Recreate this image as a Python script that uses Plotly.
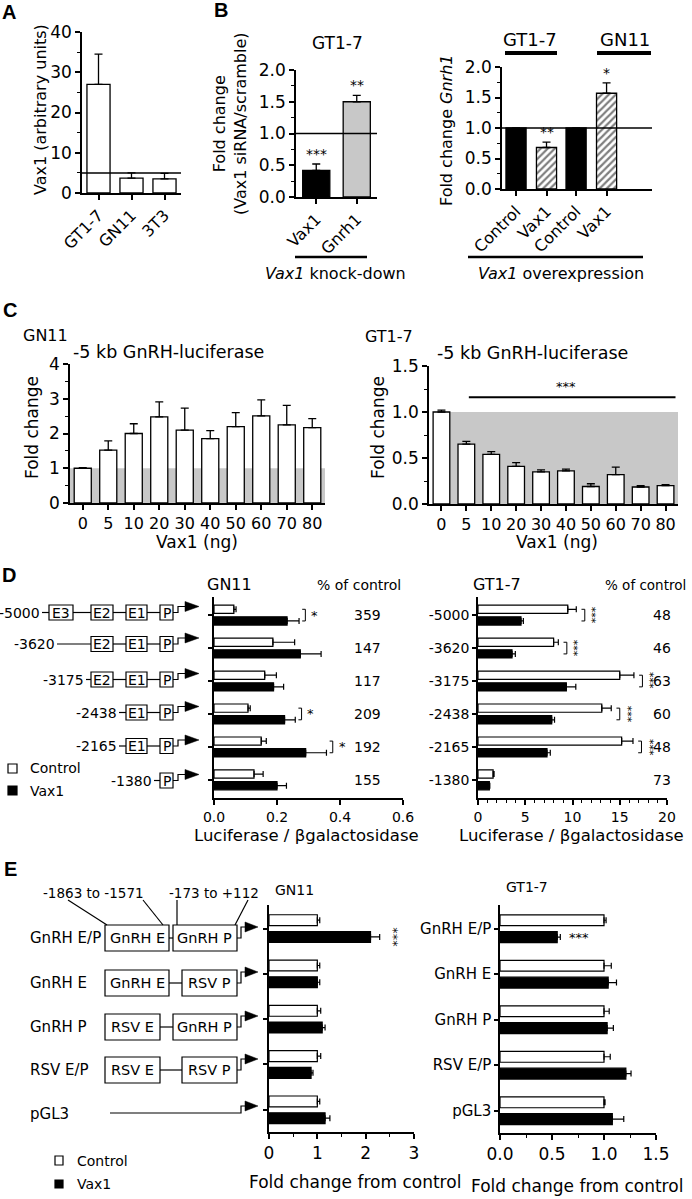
import plotly.graph_objects as go

W, H = 692, 1199
FONT = "DejaVu Sans"

# ---------------- data ----------------
A_cats = ["GT1-7", "GN11", "3T3"]
A_vals = [27.0, 3.7, 3.5]
A_err = [7.5, 1.3, 1.4]
A_ref = 5

B1_cats = ["Vax1", "Gnrh1"]
B1_vals = [0.42, 1.50]
B1_err = [0.10, 0.10]
B1_sig = ["***", "**"]

B2_groups = ["GT1-7", "GN11"]
B2_ctrl = [1.0, 1.0]
B2_vax = [0.68, 1.57]
B2_vax_err = [0.09, 0.17]
B2_sig = ["**", "*"]

C_doses = ["0", "5", "10", "20", "30", "40", "50", "60", "70", "80"]
C_gn11 = [1.0, 1.52, 2.0, 2.48, 2.1, 1.85, 2.2, 2.51, 2.25, 2.17]
C_gn11_err = [0.02, 0.27, 0.28, 0.43, 0.63, 0.23, 0.4, 0.46, 0.56, 0.26]
C_gn11_sig = ["", "", "", "*", "", "", "", "", "*", ""]
C_gt17 = [1.0, 0.65, 0.54, 0.41, 0.35, 0.36, 0.19, 0.32, 0.185, 0.2]
C_gt17_err = [0.02, 0.03, 0.03, 0.04, 0.02, 0.02, 0.03, 0.08, 0.015, 0.01]

D_rows = ["-5000", "-3620", "-3175", "-2438", "-2165", "-1380"]
D_gn_ctrl = [0.063, 0.187, 0.161, 0.108, 0.150, 0.127]
D_gn_ctrl_err = [0.007, 0.069, 0.037, 0.007, 0.016, 0.029]
D_gn_vax = [0.232, 0.274, 0.189, 0.224, 0.291, 0.200]
D_gn_vax_err = [0.038, 0.066, 0.032, 0.034, 0.066, 0.030]
D_gn_pct = [359, 147, 117, 209, 192, 155]
D_gn_sig = ["*", "", "", "*", "*", ""]
D_gt_ctrl = [9.5, 8.0, 15.0, 13.1, 15.2, 1.6]
D_gt_ctrl_err = [0.9, 0.5, 1.5, 1.0, 1.2, 0.1]
D_gt_vax = [4.55, 3.6, 9.35, 7.8, 7.3, 1.2]
D_gt_vax_err = [0.25, 0.35, 1.0, 0.3, 0.35, 0.05]
D_gt_pct = [48, 46, 63, 60, 48, 73]
D_gt_sig = ["***", "***", "***", "***", "***", ""]

E_rows = ["GnRH E/P", "GnRH E", "GnRH P", "RSV E/P", "pGL3"]
E_gn_ctrl = [1.0, 1.0, 1.0, 1.0, 1.0]
E_gn_ctrl_err = [0.05, 0.05, 0.07, 0.07, 0.05]
E_gn_vax = [2.1, 1.0, 1.1, 0.87, 1.16]
E_gn_vax_err = [0.19, 0.05, 0.06, 0.04, 0.10]
E_gt_ctrl = [1.0, 1.0, 1.0, 1.0, 1.0]
E_gt_ctrl_err = [0.02, 0.07, 0.05, 0.06, 0.01]
E_gt_vax = [0.55, 1.04, 1.03, 1.21, 1.08]
E_gt_vax_err = [0.03, 0.08, 0.06, 0.05, 0.11]

# ---------------- helpers ----------------
def px(x):
    return x / W

def py(y):
    return 1 - y / H

def xr(n):
    return "x" if n == 1 else f"x{n}"

def yr(n):
    return "y" if n == 1 else f"y{n}"

layout = dict(width=W, height=H,
              margin=dict(l=0, r=0, t=0, b=0, pad=0, autoexpand=False),
              paper_bgcolor="white", plot_bgcolor="rgba(0,0,0,0)",
              showlegend=False, barmode="overlay",
              font=dict(family=FONT, color="black"))
shapes = []
annotations = []
traces = []

def base_axis(size):
    return dict(showline=True, linecolor="black", linewidth=1.5, ticks="outside",
                ticklen=5, tickwidth=1.5, tickcolor="black", showgrid=False,
                zeroline=False, fixedrange=True, automargin=False,
                tickfont=dict(family=FONT, size=size, color="black"))

def add_axes(n, xdom, ydom, xkw, ykw, size=17):
    xa = base_axis(size)
    xa.update(domain=[px(xdom[0]), px(xdom[1])], anchor=yr(n))
    xa.update(xkw)
    ya = base_axis(size)
    ya.update(domain=[py(ydom[1]), py(ydom[0])], anchor=xr(n))
    ya.update(ykw)
    layout["xaxis" if n == 1 else f"xaxis{n}"] = xa
    layout["yaxis" if n == 1 else f"yaxis{n}"] = ya

def minor(d):
    return dict(ticks="outside", ticklen=3, tickwidth=1, tickcolor="black", dtick=d)

def T(x, y, text, size=14, xa="center", ya="middle", angle=0, family=FONT):
    annotations.append(dict(x=px(x), y=py(y), xref="paper", yref="paper", text=text,
                            showarrow=False, xanchor=xa, yanchor=ya, textangle=angle,
                            font=dict(size=size, family=family, color="black")))

def TA(n, x, y, text, size=14, xa="center", ya="bottom", angle=0):
    annotations.append(dict(x=x, y=y, xref=xr(n), yref=yr(n), text=text, showarrow=False,
                            xanchor=xa, yanchor=ya, textangle=angle,
                            font=dict(size=size, family=FONT, color="black")))

def L(x0, y0, x1, y1, w=1.2):
    shapes.append(dict(type="line", xref="paper", yref="paper", x0=px(x0), y0=py(y0),
                       x1=px(x1), y1=py(y1), line=dict(color="black", width=w)))

def R(x0, y0, x1, y1, fill="white", w=1.2):
    shapes.append(dict(type="rect", xref="paper", yref="paper", x0=px(x0), y0=py(y0),
                       x1=px(x1), y1=py(y1), line=dict(color="black", width=w),
                       fillcolor=fill, layer="above"))

def P(points, fill=None, w=1.2):
    d = "M " + " L ".join(f"{px(a):.5f},{py(b):.5f}" for a, b in points)
    if fill:
        d += " Z"
    shapes.append(dict(type="path", xref="paper", yref="paper", path=d,
                       line=dict(color="black", width=w),
                       fillcolor=fill if fill else "rgba(0,0,0,0)", layer="above"))

def promoter_arrow(xr_, yc, step, up, stem, hl, hh):
    xs = xr_ + step
    P([(xr_, yc), (xs, yc), (xs, yc - up), (xs + stem, yc - up)])
    xa = xs + stem
    P([(xa, yc - up - hh / 2), (xa, yc - up + hh / 2), (xa + hl, yc - up)], fill="black", w=0.5)

def vbar(n, x, y, err, color, width, pattern=None):
    m = dict(color=color, line=dict(color="black", width=1.3))
    if pattern:
        m["pattern"] = pattern
    traces.append(go.Bar(x=x, y=y, xaxis=xr(n), yaxis=yr(n), width=width, marker=m,
                         error_y=dict(type="data", array=err, arrayminus=[0] * len(err),
                                      symmetric=False, color="black", thickness=1.3, width=4)))

def hbar(n, pos, x, err, color, width):
    traces.append(go.Bar(y=pos, x=x, orientation="h", xaxis=xr(n), yaxis=yr(n), width=width,
                         marker=dict(color=color, line=dict(color="black", width=1.2)),
                         error_x=dict(type="data", array=err, arrayminus=[0] * len(err),
                                      symmetric=False, color="black", thickness=1.2, width=3)))

# ---------------- Panel A ----------------
add_axes(1, (82, 181), (32, 193),
         dict(type="category", range=[-0.5, 2.5], tickangle=-45, tickfont=dict(size=16, family=FONT)),
         dict(range=[0, 40], dtick=10, minor=minor(5)))
vbar(1, A_cats, A_vals, A_err, "white", 0.7)
shapes.append(dict(type="line", xref="x", yref="y", x0=-0.5, x1=2.5, y0=A_ref, y1=A_ref,
                   line=dict(color="black", width=1.5), layer="above"))
T(40, 110, "Vax1 (arbitrary units)", size=16, angle=-90)

# ---------------- Panel B (knock-down) ----------------
add_axes(2, (296, 377), (70, 197),
         dict(type="category", range=[-0.5, 1.5], tickangle=-45, tickfont=dict(size=16, family=FONT)),
         dict(range=[0, 2], dtick=0.5, tickformat=".1f", minor=minor(0.25)))
vbar(2, B1_cats, B1_vals, B1_err, ["black", "#c8c8c8"], 0.67)
shapes.append(dict(type="line", xref="x2", yref="y2", x0=-0.5, x1=1.5, y0=1, y1=1,
                   line=dict(color="black", width=1.5), layer="above"))
for i, s in enumerate(B1_sig):
    TA(2, B1_cats[i], B1_vals[i] + B1_err[i], s, size=14)
T(337, 43, "GT1-7", size=17)
T(230, 124, "Fold change<br>(Vax1 siRNA/scramble)", size=16, angle=-90)
L(295, 257, 367, 257, w=2.5)
T(335, 273, "<i>Vax1</i> knock-down", size=16)

# ---------------- Panel B (overexpression) ----------------
gap = 1.97
ctrl_pos = [g * gap for g in range(len(B2_groups))]
vax_pos = [g * gap + 1 for g in range(len(B2_groups))]
tickpos = [p for g in range(len(B2_groups)) for p in (ctrl_pos[g], vax_pos[g])]
add_axes(3, (502, 652), (67, 189),
         dict(range=[-0.46, 4.46], tickvals=tickpos, ticktext=["Control", "Vax1"] * 2,
              tickangle=-45, tickfont=dict(size=16, family=FONT)),
         dict(range=[0, 2], dtick=0.5, tickformat=".1f", minor=minor(0.25)))
vbar(3, ctrl_pos, B2_ctrl, [0, 0], "black", 0.66)
vbar(3, vax_pos, B2_vax, B2_vax_err, "white", 0.66,
     pattern=dict(shape="/", fgcolor="black", bgcolor="white", size=5, solidity=0.45))
shapes.append(dict(type="line", xref="x3", yref="y3", x0=-0.46, x1=4.46, y0=1, y1=1,
                   line=dict(color="black", width=1.5), layer="above"))
for g, s in enumerate(B2_sig):
    TA(3, vax_pos[g], B2_vax[g] + B2_vax_err[g], s, size=14)
T(530, 39, "GT1-7", size=18)
T(625, 39, "GN11", size=18)
L(505, 53, 557, 53, w=4)
L(597, 53, 651, 53, w=4)
T(446, 130, "Fold change <i>Gnrh1</i>", size=16, angle=-90)
L(468, 257, 643, 257, w=2.5)
T(561, 273, "<i>Vax1</i> overexpression", size=16)

# ---------------- Panel C ----------------
add_axes(4, (70, 325), (364, 503),
         dict(type="category", range=[-0.5, 9.5], tickangle=0, tickfont=dict(size=16, family=FONT)),
         dict(range=[0, 4], dtick=1, minor=minor(0.5)))
shapes.append(dict(type="rect", xref="x4", yref="y4", x0=-0.5, x1=9.5, y0=0, y1=1,
                   fillcolor="#c8c8c8", line=dict(width=0), layer="below"))
vbar(4, C_doses, C_gn11, C_gn11_err, "white", 0.67)
for i, s in enumerate(C_gn11_sig):
    if s:
        TA(4, C_doses[i], C_gn11[i] + C_gn11_err[i], s, size=15)
T(46, 335, "GN11", size=16)
T(168, 352, "-5 kb GnRH-luciferase", size=17.5)
T(32, 428, "Fold change", size=17, angle=-90)
T(197, 542, "Vax1 (ng)", size=17)

add_axes(5, (429, 678), (366, 504),
         dict(type="category", range=[-0.5, 9.5], tickangle=0, tickfont=dict(size=16, family=FONT)),
         dict(range=[0, 1.5], dtick=0.5, tickformat=".1f", minor=minor(0.25)))
shapes.append(dict(type="rect", xref="x5", yref="y5", x0=0, x1=9.5, y0=0, y1=1,
                   fillcolor="#c8c8c8", line=dict(width=0), layer="below"))
vbar(5, C_doses, C_gt17, C_gt17_err, "white", 0.67)
shapes.append(dict(type="line", xref="x5", yref="y5", x0=1.1, x1=9.4, y0=1.16, y1=1.16,
                   line=dict(color="black", width=2)))
TA(5, 5, 1.17, "***", size=13)
T(389, 337, "GT1-7", size=16)
T(532, 353, "-5 kb GnRH-luciferase", size=17.5)
T(378, 428, "Fold change", size=17, angle=-90)
T(557, 542, "Vax1 (ng)", size=17)

# ---------------- Panel D ----------------
nD = len(D_rows)
d_off, d_w = 0.177, 0.25
d_idx = list(range(nD))
add_axes(6, (214, 403), (597, 798),
         dict(range=[0, 0.6], dtick=0.2, tickformat=".1f"),
         dict(range=[nD - 0.45, -0.55], tickvals=d_idx, showticklabels=False, ticklen=4),
         size=14)
hbar(6, [i - d_off for i in d_idx], D_gn_ctrl, D_gn_ctrl_err, "white", d_w)
hbar(6, [i + d_off for i in d_idx], D_gn_vax, D_gn_vax_err, "black", d_w)
for i in d_idx:
    annotations.append(dict(x=px(367), y=i, xref="paper", yref="y6", text=str(D_gn_pct[i]),
                            showarrow=False, font=dict(size=14, family=FONT, color="black")))
    if D_gn_sig[i]:
        xb = max(D_gn_ctrl[i] + D_gn_ctrl_err[i], D_gn_vax[i] + D_gn_vax_err[i]) + 0.02
        shapes.append(dict(type="path", xref="x6", yref="y6",
                           path=f"M {xb-0.01},{i-d_off} L {xb},{i-d_off} L {xb},{i+d_off} L {xb-0.01},{i+d_off}",
                           line=dict(color="black", width=1)))
        TA(6, xb + 0.012, i, D_gn_sig[i], size=13, xa="left", ya="middle")

add_axes(7, (478, 667), (597, 798),
         dict(range=[0, 20], dtick=5, minor=minor(1)),
         dict(range=[nD - 0.45, -0.55], tickvals=d_idx, ticktext=D_rows, ticklen=4),
         size=14)
hbar(7, [i - d_off for i in d_idx], D_gt_ctrl, D_gt_ctrl_err, "white", d_w)
hbar(7, [i + d_off for i in d_idx], D_gt_vax, D_gt_vax_err, "black", d_w)
for i in d_idx:
    annotations.append(dict(x=px(673), y=i, xref="paper", yref="y7", text=str(D_gt_pct[i]),
                            showarrow=False, font=dict(size=14, family=FONT, color="black")))
    if D_gt_sig[i]:
        xb = max(D_gt_ctrl[i] + D_gt_ctrl_err[i], D_gt_vax[i] + D_gt_vax_err[i]) + 0.9
        shapes.append(dict(type="path", xref="x7", yref="y7",
                           path=f"M {xb-0.35},{i-d_off} L {xb},{i-d_off} L {xb},{i+d_off} L {xb-0.35},{i+d_off}",
                           line=dict(color="black", width=1)))
        TA(7, xb + 0.8, i, D_gt_sig[i], size=11, xa="center", ya="middle", angle=90)

T(230, 585, "GN11", size=16)
T(359, 585, "% of control", size=14)
T(497, 585, "GT1-7", size=16)
T(645, 585, "% of control", size=13.5)
T(306, 835, "Luciferase / βgalactosidase", size=16.5)
T(571, 835, "Luciferase / βgalactosidase", size=16.5)

# D schematic
D_row_y = [612.5, 644, 679.5, 712.5, 746, 780.5]
D_boxes = {"E3": (49, 73), "E2": (91, 113), "E1": (126, 147), "P": (160, 173)}
D_row_boxes = [["E3", "E2", "E1", "P"], ["E2", "E1", "P"], ["E2", "E1", "P"],
               ["E1", "P"], ["E1", "P"], ["P"]]
D_label_right = [42, 57, 86, 119, 119, 154]
for r, yc in enumerate(D_row_y):
    bx = D_row_boxes[r]
    T(D_label_right[r], yc, D_rows[r], size=14, xa="right")
    L(D_label_right[r], yc, D_boxes[bx[0]][0], yc)
    for a, b in zip(bx[:-1], bx[1:]):
        L(D_boxes[a][1], yc, D_boxes[b][0], yc)
    for name in bx:
        x0, x1 = D_boxes[name]
        R(x0, yc - 7.5, x1, yc + 7.5)
        T((x0 + x1) / 2, yc, name, size=14)
    promoter_arrow(173, yc, 5, 6, 7, 14, 10)

R(8, 764, 17, 773)
T(28, 768, "Control", size=14, xa="left")
R(8, 786, 17, 795, fill="black")
T(28, 791, "Vax1", size=14, xa="left")

# ---------------- Panel E ----------------
nE = len(E_rows)
e_off, e_w = 0.185, 0.24
e_idx = list(range(nE))
add_axes(8, (269, 414), (905, 1132),
         dict(range=[0, 3], dtick=1, minor=minor(0.5)),
         dict(range=[nE - 0.51, -0.52], tickvals=e_idx, showticklabels=False, ticklen=4),
         size=17)
hbar(8, [i - e_off for i in e_idx], E_gn_ctrl, E_gn_ctrl_err, "white", e_w)
hbar(8, [i + e_off for i in e_idx], E_gn_vax, E_gn_vax_err, "black", e_w)
TA(8, E_gn_vax[0] + E_gn_vax_err[0] + 0.27, 0 + e_off, "***", size=13, xa="center", ya="middle", angle=90)

add_axes(9, (500, 656), (905, 1133),
         dict(range=[0, 1.5], dtick=0.5, tickformat=".1f", minor=minor(0.25)),
         dict(range=[nE - 0.51, -0.52], tickvals=e_idx, ticktext=E_rows, ticklen=4),
         size=17)
hbar(9, [i - e_off for i in e_idx], E_gt_ctrl, E_gt_ctrl_err, "white", e_w)
hbar(9, [i + e_off for i in e_idx], E_gt_vax, E_gt_vax_err, "black", e_w)
TA(9, E_gt_vax[0] + E_gt_vax_err[0] + 0.06, 0 + e_off, "***", size=13, xa="left", ya="middle")
layout["yaxis9"]["tickfont"] = dict(size=15, family=FONT, color="black")

T(294, 890, "GN11", size=14)
T(527, 887, "GT1-7", size=14)
T(355, 1182, "Fold change from control", size=17)
T(577, 1186, "Fold change from control", size=17)

# E schematic
E_row_y = [938, 983, 1027, 1070, 1114]
E_row_boxes = [[(105, 169, "GnRH E"), (173, 237, "GnRH P")],
               [(105, 169, "GnRH E"), (182, 237, "RSV P")],
               [(105, 160, "RSV E"), (173, 237, "GnRH P")],
               [(105, 160, "RSV E"), (182, 237, "RSV P")],
               []]
for r, yc in enumerate(E_row_y):
    T(28, yc, E_rows[r], size=15, xa="left")
    boxes = E_row_boxes[r]
    if boxes:
        L(boxes[0][1], yc, boxes[1][0], yc)
        for x0, x1, name in boxes:
            R(x0, yc - 13, x1, yc + 13)
            T((x0 + x1) / 2, yc, name, size=14.5)
        promoter_arrow(237, yc, 4, 11, 4, 13, 10)
    else:
        L(110, yc - 1, 237, yc - 1)
        promoter_arrow(237, yc - 1, 4, 7, 4, 13, 10)

T(93, 893, "-1863 to -1571", size=13.5)
T(214, 893, "-173 to +112", size=13.5)
L(68, 900, 107, 925)
L(143, 900, 163, 925)
L(177, 900, 177, 925)
L(248, 900, 235, 925)

R(55, 1156, 63, 1165)
T(75, 1161, "Control", size=14, xa="left")
R(55, 1180, 63, 1188, fill="black")
T(75, 1184, "Vax1", size=14, xa="left")

# panel letters
for letter, x, y in [("A", 9, 12), ("B", 221, 10), ("C", 10, 310), ("D", 9, 575), ("E", 10, 869)]:
    T(x, y, f"<b>{letter}</b>", size=20, family="Liberation Sans")

layout["shapes"] = shapes
layout["annotations"] = annotations
fig = go.Figure(data=traces, layout=layout)
fig.write_html("out.html", config={"displayModeBar": False},
               post_script="document.body.style.margin='0';document.body.style.overflow='hidden';")
